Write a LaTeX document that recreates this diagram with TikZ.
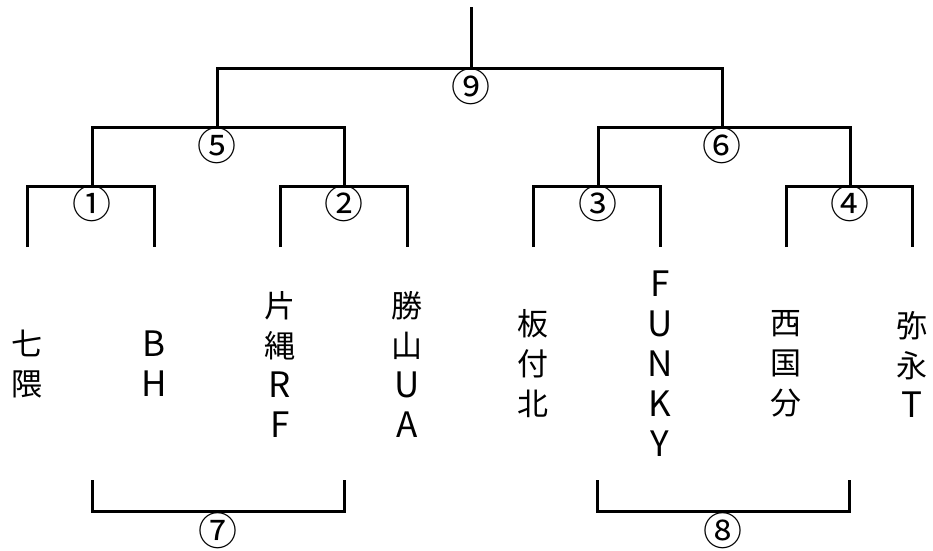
\documentclass[tikz,border=0pt]{standalone}
\usepackage{fontspec}
\setmainfont{Noto Sans CJK JP}
\usetikzlibrary{positioning}
\newcommand\lat[1]{{\fontsize{35}{40}\selectfont#1}}

\begin{document}
\begin{tikzpicture}[x=1pt,y=-1pt]
\tikzstyle{line}=[line width=3pt]
\tikzstyle{team}=[align=center,inner sep=0pt,font=\fontsize{31}{40}\selectfont]
\tikzstyle{num}=[inner sep=0pt,font=\fontsize{39}{39}\selectfont]
\useasboundingbox (0,0) rectangle (933,550);

 % leaves
 \foreach \i/\x in {1/27,2/154,3/280,4/407,5/533,6/660,7/786,8/912}
   \coordinate (t\i) at (\x,247);
 \coordinate (m1) at (92,186);  \coordinate (m2) at (344,186);
 \coordinate (m3) at (598,186); \coordinate (m4) at (850,186);
 \coordinate (m5) at (217,127); \coordinate (m6) at (722,127);
 \coordinate (m9) at (471,68);  \coordinate (top) at (471,7);

 \draw[line] (t1) |- (m1) -| (t2);
 \draw[line] (t3) |- (m2) -| (t4);
 \draw[line] (t5) |- (m3) -| (t6);
 \draw[line] (t7) |- (m4) -| (t8);
 \draw[line] (m1) |- (m5) -| (m2);
 \draw[line] (m3) |- (m6) -| (m4);
 \draw[line] (m5) |- (m9) -| (m6);
 \draw[line] (m9) -- (top);

 \node[num] (n1) at (92,204) {①};
 \node[num] (n2) at (344,204) {②};
 \node[num] (n3) at (598,204) {③};
 \node[num] (n4) at (850,204) {④};
 \node[num] (n5) at (217,146) {⑤};
 \node[num] (n6) at (722,146) {⑥};
 \node[num] (n9) at (471,87) {⑨};

 % teams
 \node[team] (a) at (27,364) {七\\隈};
 \node[team] (b) at (154,364) {\lat{B}\\\lat{H}};
 \node[team] (c) at (280,364) {片\\縄\\\lat{R}\\\lat{F}};
 \node[team] (d) at (407,364) {勝\\山\\\lat{U}\\\lat{A}};
 \node[team] (e) at (533,364) {板\\付\\北};
 \node[team] (f) at (660,364) {\lat{F}\\\lat{U}\\\lat{N}\\\lat{K}\\\lat{Y}};
 \node[team] (g) at (786,364) {西\\国\\分};
 \node[team] (h) at (912,364) {弥\\永\\\lat{T}};

 % consolation
 \coordinate (b7l) at (92,480);  \coordinate (b7r) at (344,480);
 \coordinate (b8l) at (597,480); \coordinate (b8r) at (849,480);
 \coordinate (m7) at (218,511);  \coordinate (m8) at (723,511);
 \draw[line] (b7l) |- (m7) -| (b7r);
 \draw[line] (b8l) |- (m8) -| (b8r);
 \node[num] (n7) at (218,531) {⑦};
 \node[num] (n8) at (723,531) {⑧};
\end{tikzpicture}
\end{document}
